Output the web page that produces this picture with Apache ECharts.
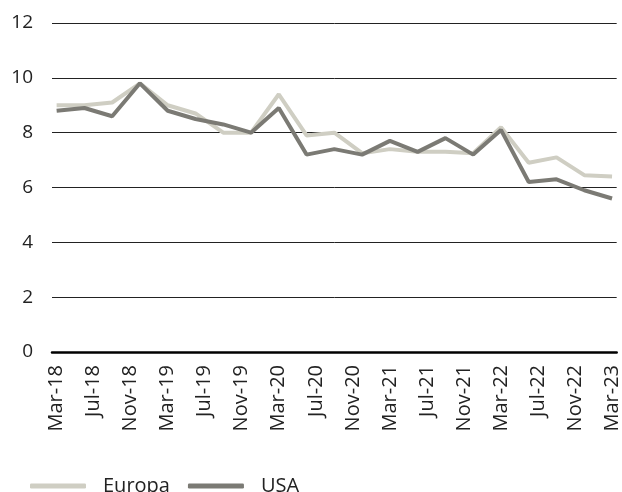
<!DOCTYPE html>
<html>
<head>
<meta charset="utf-8">
<script src="https://cdn.jsdelivr.net/npm/echarts@6/dist/echarts.min.js"></script>
<style>
	html, body { margin: 0; padding: 0; background: #fff; }
	#chart { width: 622px; height: 492px; }
</style>
</head>
<body>
<div id="chart"></div>
<script>
// quarterly observations
var quarters = ['Mar-18', 'Jun-18', 'Sep-18', 'Dec-18', 'Mar-19', 'Jun-19', 'Sep-19', 'Dec-19',
	'Mar-20', 'Jun-20', 'Sep-20', 'Dec-20', 'Mar-21', 'Jun-21', 'Sep-21', 'Dec-21',
	'Mar-22', 'Jun-22', 'Sep-22', 'Dec-22', 'Mar-23'];
var europa = [9.0, 9.0, 9.1, 9.8, 9.0, 8.7, 8.0, 8.0, 9.4, 7.9, 8.0, 7.25, 7.4, 7.3, 7.3, 7.25, 8.2, 6.9, 7.1, 6.45, 6.4];
var usa = [8.8, 8.9, 8.6, 9.8, 8.8, 8.5, 8.3, 8.0, 8.9, 7.2, 7.4, 7.2, 7.7, 7.3, 7.8, 7.2, 8.1, 6.2, 6.3, 5.9, 5.6];
var yTicks = [0, 2, 4, 6, 8, 10, 12];

// monthly axis so the labels can fall every 4 months (Mar, Jul, Nov)
var monthNames = ['Jan', 'Feb', 'Mar', 'Apr', 'May', 'Jun', 'Jul', 'Aug', 'Sep', 'Oct', 'Nov', 'Dec'];
var months = [];
for (var m = 2; m <= 62; m++) {
	var yr = 18 + Math.floor(m / 12);
	months.push(monthNames[m % 12] + '-' + yr);
}

function pairs(vals) {
	return quarters.map(function(q, i) { return [q, vals[i]]; });
}

var myChart = echarts.init(document.getElementById('chart'));
var option = {
	animation: false,
	grid: {
		top: 23,
		left: 52,
		right: 0,
		bottom: 140
	},
	legend: {
		left: 25,
		top: 471,
		itemWidth: 56,
		itemHeight: 5,
		itemGap: 18,
		icon: 'roundRect',
		textStyle: {
			fontFamily: 'Open Sans',
			fontSize: 20,
			color: '#222',
			padding: [0, 0, 0, 12]
		},
		data: ['Europa', 'USA']
	},
	xAxis: {
		type: 'category',
		boundaryGap: true,
		data: months,
		axisTick: { show: false },
		axisLine: { lineStyle: { color: '#000', width: 2.5 } },
		axisLabel: {
			interval: 3,
			rotate: 90,
			margin: 13,
			fontFamily: 'Open Sans',
			fontSize: 20,
			color: '#222'
		}
	},
	yAxis: {
		type: 'value',
		min: yTicks[0],
		max: yTicks[yTicks.length - 1],
		interval: 2,
		axisLine: { show: false },
		axisTick: { show: false },
		splitLine: { lineStyle: { color: '#222', width: 1 } },
		axisLabel: {
			margin: 19,
			fontFamily: 'Open Sans',
			fontSize: 19,
			color: '#222'
		}
	},
	series: [{
		name: 'Europa',
		type: 'line',
		showSymbol: false,
		data: pairs(europa),
		itemStyle: { color: '#cfcec3' },
		lineStyle: { color: '#cfcec3', width: 4 }
	}, {
		name: 'USA',
		type: 'line',
		showSymbol: false,
		data: pairs(usa),
		itemStyle: { color: '#7b7a74' },
		lineStyle: { color: '#7b7a74', width: 4 }
	}]
};
myChart.setOption(option);
</script>
</body>
</html>
